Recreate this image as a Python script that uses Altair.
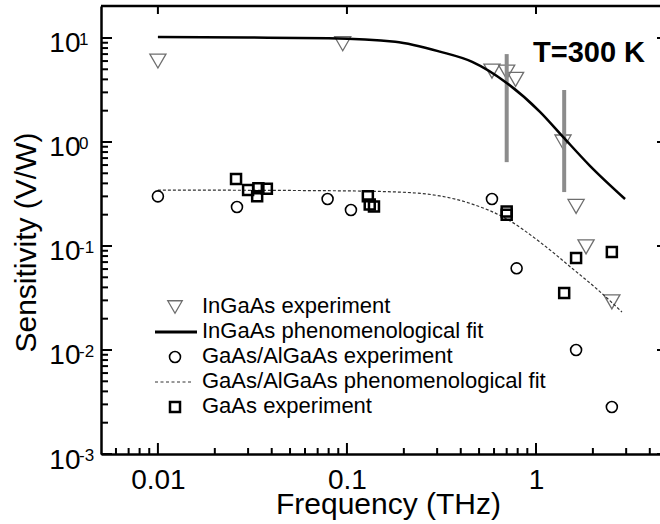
import altair as alt
import pandas as pd

# ---------------- data ----------------
ingaas_f = [0.01, 0.095, 0.585, 0.70, 0.78, 1.39, 1.63, 1.84, 2.52]
ingaas_s = [6.0, 8.8, 4.8, 4.7, 4.0, 1.0, 0.24, 0.098, 0.029]

ingaas_fit_f = [0.01, 0.03, 0.08, 0.18, 0.31, 0.46, 0.70, 1.05, 1.39, 1.93, 2.96]
ingaas_fit_s = [10.2, 10.1, 9.95, 9.2, 7.4, 5.9, 3.7, 1.95, 1.12, 0.59, 0.283]

gaalgaas_f = [0.01, 0.0262, 0.079, 0.105, 0.585, 0.79, 1.63, 2.52]
gaalgaas_s = [0.30, 0.237, 0.283, 0.222, 0.283, 0.061, 0.010, 0.00283]

gaalgaas_fit_f = [0.01, 0.08, 0.18, 0.31, 0.46, 0.70, 1.05, 1.57, 2.10, 2.85]
gaalgaas_fit_s = [0.345, 0.340, 0.331, 0.303, 0.253, 0.182, 0.109, 0.060, 0.0386, 0.0232]

gaas_f = [0.0259, 0.030, 0.0335, 0.034, 0.0377, 0.129, 0.132, 0.139, 0.70, 0.70, 1.41, 1.63, 2.52]
gaas_s = [0.44, 0.345, 0.30, 0.36, 0.355, 0.30, 0.25, 0.24, 0.20, 0.215, 0.0353, 0.0767, 0.0875]

errbar_f = [0.70, 1.41]
errbar_lo = [0.64, 0.33]
errbar_hi = [7.0, 3.16]

x_tick_vals = [0.01, 0.1, 1]
x_minor_ticks = [0.006, 0.007, 0.008, 0.009,
                 0.02, 0.03, 0.04, 0.05, 0.06, 0.07, 0.08, 0.09,
                 0.2, 0.3, 0.4, 0.5, 0.6, 0.7, 0.8, 0.9,
                 2, 3, 4]
y_tick_vals = [0.001, 0.01, 0.1, 1, 10]
y_exponents = ["-3", "-2", "-1", "0", "1"]
y_minor_ticks = [0.002, 0.003, 0.004, 0.005, 0.006, 0.007, 0.008, 0.009,
                 0.02, 0.03, 0.04, 0.05, 0.06, 0.07, 0.08, 0.09,
                 0.2, 0.3, 0.4, 0.5, 0.6, 0.7, 0.8, 0.9,
                 2, 3, 4, 5, 6, 7, 8, 9]

legend_labels = ["InGaAs experiment", "InGaAs phenomenological fit",
                 "GaAs/AlGaAs experiment", "GaAs/AlGaAs phenomenological fit",
                 "GaAs experiment"]
annotation = "T=300 K"

# ---------------- layout / style ----------------
W, H = 559, 448
FONT = "Liberation Sans"
GRAY_TRI = "#6e6e6e"
GRAY_BAR = "#8c8c8c"

xs = alt.Scale(type="log", domain=[0.005, 4.53])
ys = alt.Scale(type="log", domain=[0.001, 20.3])

x_axis = alt.Axis(values=x_tick_vals, format="~g", title="Frequency (THz)",
                  labelFontSize=28, labelColor="black", labelPadding=34,
                  labelBaseline="alphabetic", labelFlush=False,
                  ticks=False, tickSize=0, grid=False,
                  domainColor="black", domainWidth=2.5,
                  titleFontSize=30, titleFontWeight="normal", titleColor="black",
                  titleX=287, titleY=59, titleBaseline="alphabetic")
y_axis = alt.Axis(values=y_tick_vals, labelExpr="'10'", title="Sensitivity (V/W)",
                  labelFontSize=28, labelColor="black", labelPadding=21,
                  labelBaseline="alphabetic", labelOffset=14, labelFlush=False,
                  ticks=False, tickSize=0, grid=False,
                  domainColor="black", domainWidth=2.5,
                  titleFontSize=30, titleFontWeight="normal", titleColor="black",
                  titleX=-66, titleY=236, titleBaseline="alphabetic")


def X(field):
    return alt.X(field, type="quantitative", scale=xs, axis=x_axis)


def Y(field):
    return alt.Y(field, type="quantitative", scale=ys, axis=y_axis)


df_ing = pd.DataFrame({"f": ingaas_f, "s": ingaas_s})
df_ing_fit = pd.DataFrame({"f": ingaas_fit_f, "s": ingaas_fit_s})
df_ga = pd.DataFrame({"f": gaalgaas_f, "s": gaalgaas_s})
df_ga_fit = pd.DataFrame({"f": gaalgaas_fit_f, "s": gaalgaas_fit_s})
df_gaas = pd.DataFrame({"f": gaas_f, "s": gaas_s})
df_err = pd.DataFrame({"f": errbar_f, "lo": errbar_lo, "hi": errbar_hi})

layers = []

layers.append(
    alt.Chart(df_ing).mark_point(shape="triangle-down", size=260, filled=False,
                                 stroke=GRAY_TRI, strokeWidth=1.3, opacity=1)
    .encode(x=X("f"), y=Y("s"))
)
layers.append(
    alt.Chart(df_err).mark_rule(color=GRAY_BAR, strokeWidth=4)
    .encode(x=X("f"), y=Y("lo"), y2="hi")
)
layers.append(
    alt.Chart(df_ing_fit).mark_line(color="black", strokeWidth=2.5, interpolate="monotone")
    .encode(x=X("f"), y=Y("s"))
)
layers.append(
    alt.Chart(df_ga_fit).mark_line(color="#333333", strokeWidth=1.2, strokeDash=[3, 2],
                                   interpolate="monotone")
    .encode(x=X("f"), y=Y("s"))
)
layers.append(
    alt.Chart(df_ga).mark_point(shape="circle", size=120, filled=False,
                                stroke="black", strokeWidth=1.6, opacity=1)
    .encode(x=X("f"), y=Y("s"))
)
layers.append(
    alt.Chart(df_gaas).mark_point(shape="square", size=100, filled=False,
                                  stroke="black", strokeWidth=2.5, opacity=1)
    .encode(x=X("f"), y=Y("s"))
)

# y tick-label exponents
layers.append(
    alt.Chart(pd.DataFrame({"v": y_tick_vals, "e": y_exponents}))
    .mark_text(align="left", baseline="alphabetic", fontSize=17, dy=7, color="black")
    .encode(x=alt.value(-22), y=Y("v"), text="e:N")
)

# inward ticks
df_ymaj = pd.DataFrame({"v": y_tick_vals})
df_ymin = pd.DataFrame({"v": y_minor_ticks})
df_xmaj = pd.DataFrame({"v": x_tick_vals})
df_xmin = pd.DataFrame({"v": x_minor_ticks})
layers += [
    alt.Chart(df_ymaj).mark_rule(color="black", strokeWidth=2)
    .encode(y=Y("v"), x=alt.value(0), x2=alt.value(11)),
    alt.Chart(df_ymin).mark_rule(color="black", strokeWidth=2)
    .encode(y=Y("v"), x=alt.value(0), x2=alt.value(7)),
    alt.Chart(df_ymaj).mark_rule(color="black", strokeWidth=2)
    .encode(y=Y("v"), x=alt.value(W - 3), x2=alt.value(W)),
    alt.Chart(df_xmaj).mark_rule(color="black", strokeWidth=2)
    .encode(x=X("v"), y=alt.value(H), y2=alt.value(H - 11)),
    alt.Chart(df_xmin).mark_rule(color="black", strokeWidth=2)
    .encode(x=X("v"), y=alt.value(H), y2=alt.value(H - 6)),
    alt.Chart(df_xmaj).mark_rule(color="black", strokeWidth=2)
    .encode(x=X("v"), y=alt.value(0), y2=alt.value(8)),
    alt.Chart(pd.DataFrame({"a": [0]})).mark_rule(color="black", strokeWidth=2.5)
    .encode(x=alt.value(0), x2=alt.value(W), y=alt.value(0)),
]

layers.append(
    alt.Chart(pd.DataFrame({"t": [annotation]}))
    .mark_text(align="left", baseline="alphabetic", fontSize=29, fontWeight="bold", color="black")
    .encode(x=alt.value(432), y=alt.value(56), text="t:N")
)

# legend (drawn manually)
LX_TEXT, LX_SYM = 101, 74
row_y = [301, 326, 351, 376, 401]
for i, lab in enumerate(legend_labels):
    layers.append(
        alt.Chart(pd.DataFrame({"t": [lab]}))
        .mark_text(align="left", baseline="alphabetic", fontSize=22, color="black", dy=6)
        .encode(x=alt.value(LX_TEXT), y=alt.value(row_y[i]), text="t:N")
    )
one = pd.DataFrame({"a": [0]})
layers += [
    alt.Chart(one).mark_point(shape="triangle-down", size=210, filled=False,
                              stroke=GRAY_TRI, strokeWidth=1.3, opacity=1)
    .encode(x=alt.value(LX_SYM), y=alt.value(row_y[0])),
    alt.Chart(one).mark_rule(color="black", strokeWidth=3)
    .encode(x=alt.value(54), x2=alt.value(96), y=alt.value(row_y[1])),
    alt.Chart(one).mark_point(shape="circle", size=120, filled=False,
                              stroke="black", strokeWidth=1.6, opacity=1)
    .encode(x=alt.value(LX_SYM), y=alt.value(row_y[2])),
    alt.Chart(one).mark_rule(color="#333333", strokeWidth=1, strokeDash=[3, 2.5])
    .encode(x=alt.value(54), x2=alt.value(90), y=alt.value(row_y[3])),
    alt.Chart(one).mark_point(shape="square", size=100, filled=False,
                              stroke="black", strokeWidth=2.5, opacity=1)
    .encode(x=alt.value(LX_SYM), y=alt.value(row_y[4])),
]

chart = (
    alt.layer(*layers)
    .properties(width=W, height=H,
                autosize=alt.AutoSizeParams(type="none"),
                padding={"left": 101, "top": 6, "right": 0, "bottom": 70})
    .configure(font=FONT)
    .configure_view(strokeWidth=0)
)

chart.save("out.html", embed_options={"renderer": "svg", "actions": False})
